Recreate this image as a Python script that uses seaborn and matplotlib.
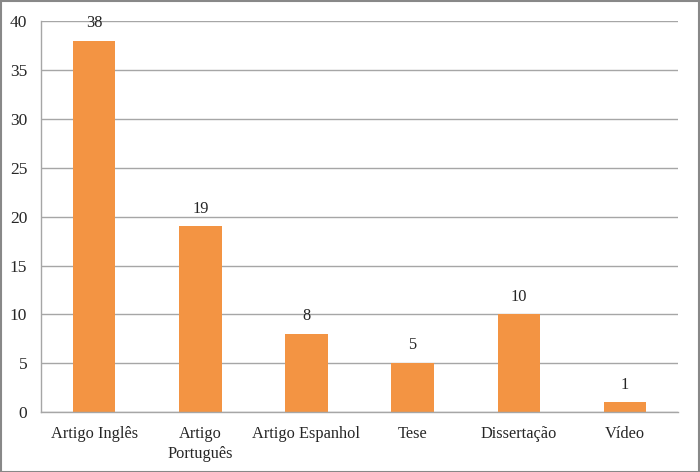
import matplotlib
matplotlib.use('Agg')
import matplotlib.pyplot as plt
import seaborn as sns
import pandas as pd
import numpy as np

categories = ['Artigo Inglês', 'Artigo\nPortuguês', 'Artigo Espanhol', 'Tese', 'Dissertação', 'Vídeo']
values = [38, 19, 8, 5, 10, 1]

df = pd.DataFrame({'cat': categories, 'val': values})

sns.set_style('white')
plt.rcParams['font.family'] = ['Liberation Serif', 'DejaVu Serif']

fig = plt.figure(figsize=(7, 4.72), dpi=100)
ax = fig.add_axes([0.0586, 0.127, 0.91, 0.828])

sns.barplot(x='cat', y='val', data=df, color='#F39443', saturation=1, width=0.4,
            linewidth=0, ax=ax)

ax.set_ylim(0, 40)
ax.set_xlim(-0.5, len(categories) - 0.5)
ax.set_yticks(range(0, 41, 5))
ax.yaxis.grid(True, color='#A6A6A6', linewidth=1)
ax.set_axisbelow(True)
ax.set_xlabel('')
ax.set_ylabel('')

for s in ['top', 'right']:
    ax.spines[s].set_visible(False)
for s in ['left', 'bottom']:
    ax.spines[s].set_color('#A6A6A6')
    ax.spines[s].set_linewidth(1)

fs = 11.8
ax.set_xticks(np.arange(-0.5, len(categories)), minor=True)
ax.tick_params(axis='x', which='major', length=0, labelsize=fs, pad=10)
ax.tick_params(axis='x', which='minor', length=4, color='#A6A6A6', direction='out')
ax.tick_params(axis='y', length=4, color='#A6A6A6', labelsize=12.5, direction='out', pad=6)
for lbl in ax.get_xticklabels():
    lbl.set_linespacing(1.3)

for i, v in enumerate(values):
    ax.text(i, v + 1.0, str(v), ha='center', va='bottom', fontsize=fs)

# frame round the whole picture
fig.patches.append(plt.Rectangle((0.001, 0.001), 0.997, 0.997, transform=fig.transFigure,
                                 fill=False, edgecolor='#888888', linewidth=1.5))

fig.savefig('out.png', dpi=100)
